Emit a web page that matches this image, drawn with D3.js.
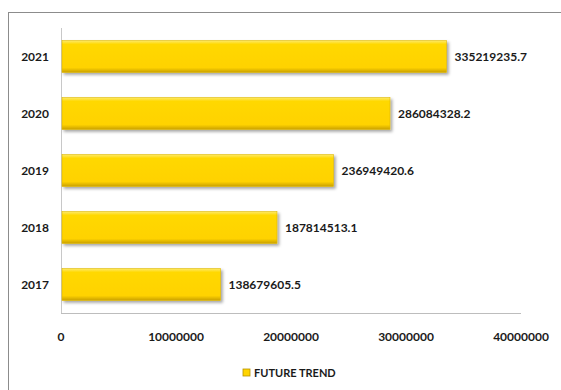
<!DOCTYPE html>
<html>
<head>
<meta charset="utf-8">
<script src="https://cdn.jsdelivr.net/npm/d3@7"></script>
<style>
  body { margin: 0; background: #fff; overflow: hidden; }
  svg { display: block; font-family: Lato, "Open Sans", sans-serif; }
</style>
</head>
<body>
<div id="chart"></div>
<script>
var years = ["2017", "2018", "2019", "2020", "2021"];
var values = [138679605.5, 187814513.1, 236949420.6, 286084328.2, 335219235.7];
var valueLabels = ["138679605.5", "187814513.1", "236949420.6", "286084328.2", "335219235.7"];
var tickValues = [0, 100000000, 200000000, 300000000, 400000000];
var tickLabels = ["0", "10000000", "20000000", "30000000", "40000000"];
var seriesName = "FUTURE TREND";

var width = 561, height = 390,
    margin = { top: 28, right: 40, bottom: 77, left: 61 };

var svg = d3.select("#chart").append("svg")
    .attr("width", width)
    .attr("height", height);

// bevel look for the bars
var defs = svg.append("defs");
var grad = defs.append("linearGradient")
    .attr("id", "barGrad")
    .attr("x1", 0).attr("y1", 0).attr("x2", 0).attr("y2", 1);
grad.append("stop").attr("offset", "0%").attr("stop-color", "#fde96a");
grad.append("stop").attr("offset", "12%").attr("stop-color", "#ffd800");
grad.append("stop").attr("offset", "85%").attr("stop-color", "#ffd200");
grad.append("stop").attr("offset", "100%").attr("stop-color", "#c9a000");

var shadow = defs.append("filter").attr("id", "shadow")
    .attr("x", "-5%").attr("y", "-20%").attr("width", "115%").attr("height", "160%");
shadow.append("feDropShadow")
    .attr("dx", 2).attr("dy", 2).attr("stdDeviation", 1.5)
    .attr("flood-color", "#000").attr("flood-opacity", 0.35);

// outer frame (right and bottom edges fall outside the picture)
svg.append("rect")
    .attr("x", 8.5).attr("y", 12.5)
    .attr("width", 560).attr("height", 400)
    .attr("fill", "none")
    .attr("stroke", "#8c8c8c");

var x = d3.scaleLinear()
    .domain([0, 400000000])
    .range([margin.left, width - margin.right]);

var y = d3.scaleBand()
    .domain(years.slice().reverse())
    .range([margin.top, height - margin.bottom])
    .paddingInner(0.44)
    .paddingOuter(0.22);

// axis lines
svg.append("line")
    .attr("x1", margin.left + 0.5).attr("x2", margin.left + 0.5)
    .attr("y1", margin.top).attr("y2", height - margin.bottom)
    .attr("stroke", "#c8c8c8");
svg.append("line")
    .attr("x1", margin.left).attr("x2", width - margin.right)
    .attr("y1", height - margin.bottom + 0.5).attr("y2", height - margin.bottom + 0.5)
    .attr("stroke", "#bdbdbd");

// bars
svg.append("g").selectAll("rect")
    .data(years)
    .enter().append("rect")
    .attr("x", x(0) + 1)
    .attr("y", function (d) { return y(d); })
    .attr("width", function (d, i) { return x(values[i]) - x(0) - 1; })
    .attr("height", y.bandwidth())
    .attr("fill", "url(#barGrad)")
    .attr("stroke", "#e0b800")
    .attr("stroke-width", 0.6)
    .attr("filter", "url(#shadow)");

// value labels
svg.append("g").selectAll("text")
    .data(years)
    .enter().append("text")
    .attr("x", function (d, i) { return x(values[i]) + 8; })
    .attr("y", function (d) { return y(d) + y.bandwidth() / 2; })
    .attr("dy", "0.35em")
    .style("font-size", "12px")
    .style("font-weight", "bold")
    .attr("fill", "#1a1a1a")
    .text(function (d, i) { return valueLabels[i]; });

// year labels
svg.append("g").selectAll("text")
    .data(years)
    .enter().append("text")
    .attr("x", 49)
    .attr("y", function (d) { return y(d) + y.bandwidth() / 2; })
    .attr("dy", "0.35em")
    .attr("text-anchor", "end")
    .style("font-size", "12px")
    .style("font-weight", "bold")
    .attr("fill", "#1a1a1a")
    .text(function (d) { return d; });

// x tick labels
svg.append("g").selectAll("text")
    .data(tickValues)
    .enter().append("text")
    .attr("x", function (d) { return x(d); })
    .attr("y", height - margin.bottom + 28)
    .attr("text-anchor", "middle")
    .style("font-size", "12px")
    .style("font-weight", "bold")
    .attr("fill", "#1a1a1a")
    .text(function (d, i) { return tickLabels[i]; });

// legend
var legend = svg.append("g").attr("transform", "translate(243,369)");
legend.append("rect")
    .attr("width", 7).attr("height", 7)
    .attr("fill", "#ffd400")
    .attr("stroke", "#b89400")
    .attr("stroke-width", 0.8);
legend.append("text")
    .attr("x", 11).attr("y", 4)
    .attr("dy", "0.35em")
    .style("font-size", "11px")
    .style("font-weight", "bold")
    .attr("fill", "#1a1a1a")
    .text(seriesName);
</script>
</body>
</html>
